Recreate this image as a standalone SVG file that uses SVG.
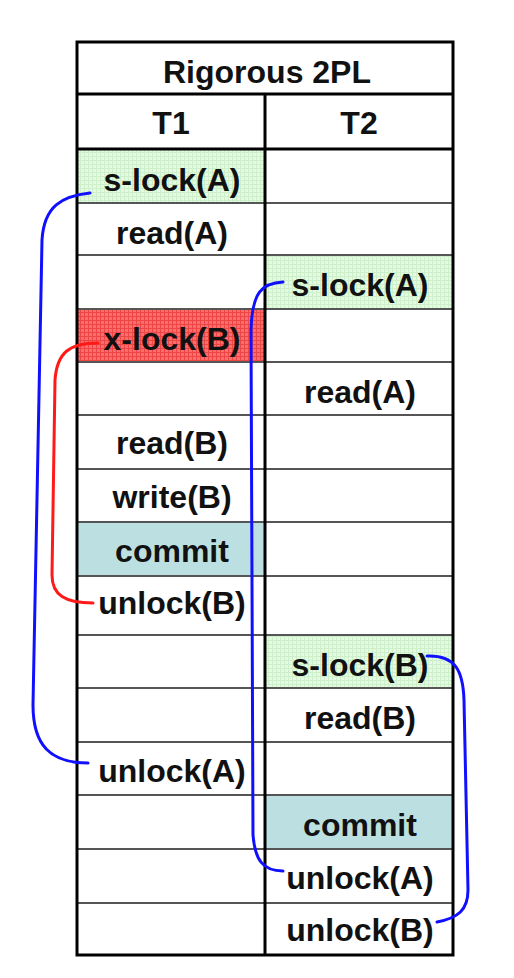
<svg xmlns="http://www.w3.org/2000/svg" width="514" height="978" viewBox="0 0 514 978">
<style>
.t{font-family:"Liberation Sans",Arial,sans-serif;font-weight:bold;font-size:32px;fill:#111;text-anchor:middle}
.h{stroke:#555;stroke-width:2}
.k{stroke:#000;stroke-width:3;fill:none}
.c{fill:none;stroke-width:3;stroke-linecap:round}
</style>
<defs>
<pattern id="gg" width="4" height="4" patternUnits="userSpaceOnUse">
<rect width="4" height="4" fill="#e4fae2"/>
<path d="M0 0.5H4M0.5 0V4" stroke="#cdefca" stroke-width="1"/>
</pattern>
<pattern id="rg" width="4" height="4" patternUnits="userSpaceOnUse">
<rect width="4" height="4" fill="#ff6c6c"/>
<path d="M0 0.5H4M0.5 0V4" stroke="#ec4646" stroke-width="1"/>
</pattern>
</defs>
<rect x="0" y="0" width="514" height="978" fill="#fff"/>
<g id="fills">
<rect x="78" y="150" width="187" height="53" fill="url(#gg)"/>
<rect x="265" y="255" width="188" height="54" fill="url(#gg)"/>
<rect x="78" y="309" width="187" height="53" fill="url(#rg)"/>
<rect x="78" y="522" width="187" height="54" fill="#bce0e2"/>
<rect x="265" y="635" width="188" height="53" fill="url(#gg)"/>
<rect x="265" y="795" width="188" height="54" fill="#bce0e2"/>
</g>
<g id="grid">
<line class="h" x1="78" y1="203" x2="453" y2="203"/>
<line class="h" x1="78" y1="255" x2="453" y2="255"/>
<line class="h" x1="78" y1="309" x2="453" y2="309"/>
<line class="h" x1="78" y1="362" x2="453" y2="362"/>
<line class="h" x1="78" y1="415" x2="453" y2="415"/>
<line class="h" x1="78" y1="469" x2="453" y2="469"/>
<line class="h" x1="78" y1="522" x2="453" y2="522"/>
<line class="h" x1="78" y1="576" x2="453" y2="576"/>
<line class="h" x1="78" y1="635" x2="453" y2="635"/>
<line class="h" x1="78" y1="688" x2="453" y2="688"/>
<line class="h" x1="78" y1="742" x2="453" y2="742"/>
<line class="h" x1="78" y1="795" x2="453" y2="795"/>
<line class="h" x1="78" y1="849" x2="453" y2="849"/>
<line class="h" x1="78" y1="903" x2="453" y2="903"/>
<line class="k" x1="77" y1="94" x2="453" y2="94"/>
<line class="k" x1="77" y1="149" x2="453" y2="149"/>
<line class="k" x1="265" y1="94" x2="265" y2="955"/>
<rect class="k" x="77" y="42" width="376" height="913"/>
</g>
<g id="title"><text class="t" x="267" y="83">Rigorous 2PL</text></g>
<g id="h1"><text class="t" x="171" y="134">T1</text></g>
<g id="h2"><text class="t" x="359" y="134">T2</text></g>
<g id="t1-slockA"><text class="t" x="172" y="191">s-lock(A)</text></g>
<g id="t1-readA"><text class="t" x="172" y="244">read(A)</text></g>
<g id="t2-slockA"><text class="t" x="360" y="296">s-lock(A)</text></g>
<g id="t1-xlockB"><text class="t" x="172" y="350">x-lock(B)</text></g>
<g id="t2-readA"><text class="t" x="360" y="403">read(A)</text></g>
<g id="t1-readB"><text class="t" x="172" y="454">read(B)</text></g>
<g id="t1-writeB"><text class="t" x="172" y="508">write(B)</text></g>
<g id="t1-commit"><text class="t" x="172" y="562">commit</text></g>
<g id="t1-unlockB"><text class="t" x="172" y="614">unlock(B)</text></g>
<g id="t2-slockB"><text class="t" x="360" y="676">s-lock(B)</text></g>
<g id="t2-readB"><text class="t" x="360" y="729">read(B)</text></g>
<g id="t1-unlockA"><text class="t" x="172" y="782">unlock(A)</text></g>
<g id="t2-commit"><text class="t" x="360" y="836">commit</text></g>
<g id="t2-unlockA"><text class="t" x="360" y="889">unlock(A)</text></g>
<g id="t2-unlockB"><text class="t" x="360" y="941">unlock(B)</text></g>
<g id="connectors">
<path class="c" stroke="#1010ff" d="M90 193 C62 196 44 206 42 240 L33 705 C33 745 50 763 88 763"/>
<path class="c" stroke="#ff1a1a" d="M98 343 C70 343 57 352 55 380 L52 575 C52 595 65 603 93 603"/>
<path class="c" stroke="#1010ff" d="M283 282 C262 283 252 292 251 330 L253 835 C255 860 263 871 283 871"/>
<path class="c" stroke="#1010ff" d="M427 656 C455 655 463 670 464 700 L468 890 C468 910 458 918 437 922"/>
</g>
</svg>
